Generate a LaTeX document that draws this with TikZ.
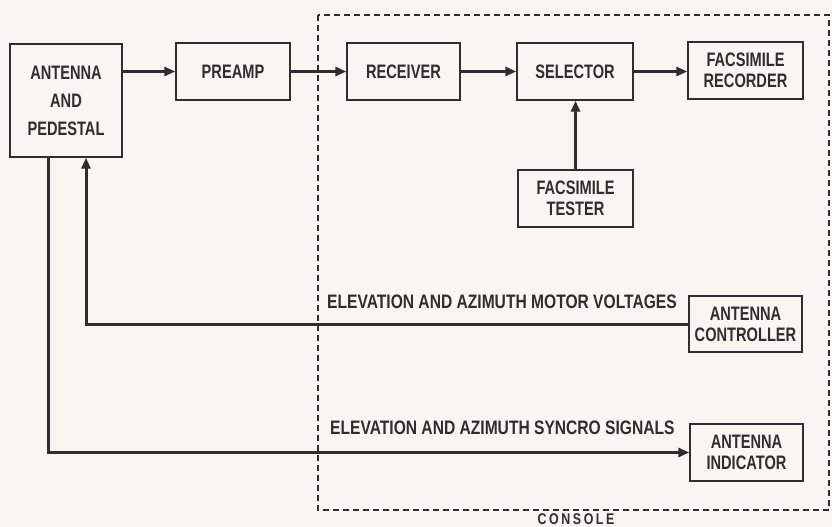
\documentclass[tikz,border=0pt]{standalone}
\usepackage{fontspec}
\setmainfont{Liberation Sans}[FakeStretch=0.8]
\newfontfamily\boxfont{Liberation Sans}[FakeStretch=0.75]
\usetikzlibrary{arrows.meta}
\definecolor{ink}{HTML}{2E2E2E}
\definecolor{paper}{HTML}{F8F6F0}
\tikzset{
  box/.style={draw=ink, line width=1.4pt, fill=paper, align=center, inner sep=0pt,
    font=\boxfont\fontsize{19.5}{21}\selectfont\bfseries, text=ink},
  conn/.style={draw=ink, line width=3pt, -{Triangle[length=11pt,width=9pt]}},
  lab/.style={font=\fontsize{19.5}{21}\selectfont\bfseries, text=ink, inner sep=0pt},
  console/.style={draw=ink, line width=1.2pt, dash pattern=on 6pt off 4pt}
}
\begin{document}
\begin{tikzpicture}[x=1pt,y=-1pt]
\useasboundingbox[fill=paper] (0,0) rectangle (832,527);
\draw[console] (318,15) rectangle (829,510);
\node[lab, font=\fontsize{15.5}{18}\selectfont\bfseries] (cons) at (576,519) {C\,O\,N\,S\,O\,L\,E};
\node[box, minimum width=112, minimum height=113] (ant) at (66,100.5) {ANTENNA\\[7pt]AND\\[7pt]PEDESTAL};
\node[box, minimum width=114, minimum height=57] (pre) at (233,71.5) {PREAMP};
\node[box, minimum width=113, minimum height=57] (rec) at (403.5,71.5) {RECEIVER};
\node[box, minimum width=116, minimum height=57] (sel) at (575,71.5) {SELECTOR};
\node[box, minimum width=115, minimum height=57] (far) at (745.5,70.5) {FACSIMILE\\RECORDER};
\node[box, minimum width=115, minimum height=57] (fat) at (575.5,198.5) {FACSIMILE\\TESTER};
\node[box, minimum width=113, minimum height=56] (ctl) at (745.5,324) {ANTENNA\\CONTROLLER};
\node[box, minimum width=113, minimum height=57] (ind) at (746.5,452.5) {ANTENNA\\INDICATOR};
\draw[conn] (ant.east |- pre.west) -- (pre.west);
\draw[conn] (pre.east) -- (rec.west);
\draw[conn] (rec.east) -- (sel.west);
\draw[conn] (sel.east) -- (sel.east -| far.west);
\draw[conn] (fat.north) -- (fat.north |- sel.south);
\draw[conn] (ctl.west) -| ([xshift=20]ant.south);
\draw[conn] ([xshift=-18]ant.south) |- (ind.west);
\node[lab, anchor=west] (lmot) at (327,302) {ELEVATION AND AZIMUTH MOTOR VOLTAGES};
\node[lab, anchor=west] (lsyn) at (330,428) {ELEVATION AND AZIMUTH SYNCRO SIGNALS};
\end{tikzpicture}
\end{document}
